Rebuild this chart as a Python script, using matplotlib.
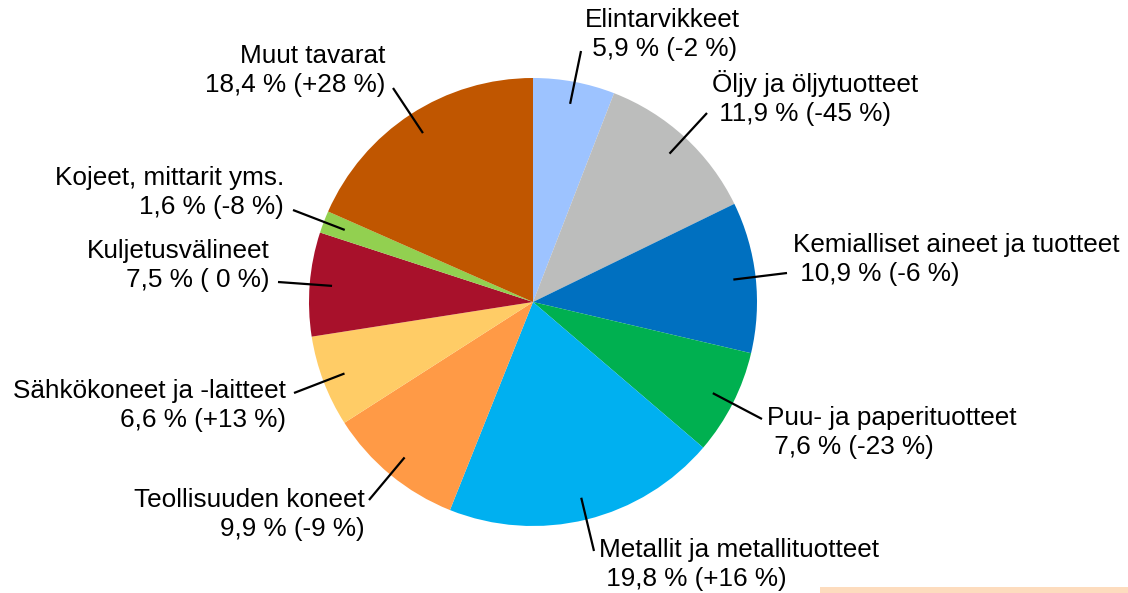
import numpy as np
import matplotlib
matplotlib.use("Agg")
import matplotlib.pyplot as plt
from matplotlib.patches import Rectangle

categories = ["Elintarvikkeet", "Öljy ja öljytuotteet", "Kemialliset aineet ja tuotteet",
              "Puu- ja paperituotteet", "Metallit ja metallituotteet", "Teollisuuden koneet",
              "Sähkökoneet ja -laitteet", "Kuljetusvälineet", "Kojeet, mittarit yms.",
              "Muut tavarat"]
shares = [5.9, 11.9, 10.9, 7.6, 19.8, 9.9, 6.6, 7.5, 1.6, 18.4]
changes = ["-2", "-45", "-6", "-23", "+16", "-9", "+13", " 0", "-8", "+28"]

colors = ["#9DC3FF", "#BCBDBC", "#0070C0", "#00B050", "#00B0F0",
          "#FF9A46", "#FFCC66", "#A8112B", "#92D050", "#C05600"]

# label layout in pixels: text x, first baseline y, alignment, leader line outer end
layout = [
    (585, 27, "left", (581, 51)),
    (712, 92, "left", (707, 113)),
    (793, 252, "left", (787, 273)),
    (767, 425, "left", (762, 419)),
    (599, 557, "left", (594, 551)),
    (365, 507, "right", (369, 500)),
    (286, 398, "right", (294, 393)),
    (270, 258, "right", (278, 282)),
    (284, 185, "right", (293, 210)),
    (385, 63, "right", (393, 88)),
]

W, H = 1128, 593
CX, CY, R = 533, 302, 224
FS = 18.8
LINE_H = 29

plt.rcParams["font.family"] = ["Liberation Sans", "DejaVu Sans"]

fig = plt.figure(figsize=(W / 100, H / 100), dpi=100)
ax = fig.add_axes([0, 0, 1, 1])

# y axis runs downward, so counterclockwise in data is clockwise on screen
wedges, _ = ax.pie(shares, colors=colors, startangle=-90, counterclock=True,
                   center=(CX, CY), radius=R, wedgeprops=dict(linewidth=0))
ax.set_xlim(0, W)
ax.set_ylim(H, 0)
ax.axis("off")

for wedge, name, share, change, (tx, ty, ha, outer) in zip(wedges, categories, shares, changes, layout):
    mid = np.deg2rad((wedge.theta1 + wedge.theta2) / 2)
    inner = (CX + 0.9 * R * np.cos(mid), CY + 0.9 * R * np.sin(mid))
    ax.plot([inner[0], outer[0]], [inner[1], outer[1]], color="black", lw=1.6,
            solid_capstyle="butt")
    second = "{} % ({} %)".format(("%.1f" % share).replace(".", ","), change)
    if ha == "left":
        second = " " + second
    ax.text(tx, ty, name, ha=ha, va="baseline", fontsize=FS, color="black")
    ax.text(tx, ty + LINE_H, second, ha=ha, va="baseline", fontsize=FS, color="black")

fig.patches.append(Rectangle((820 / W, 0), (W - 820) / W, 6 / H, transform=fig.transFigure,
                             facecolor="#FDDCBE", edgecolor="none"))

fig.savefig("out.png", dpi=100)
